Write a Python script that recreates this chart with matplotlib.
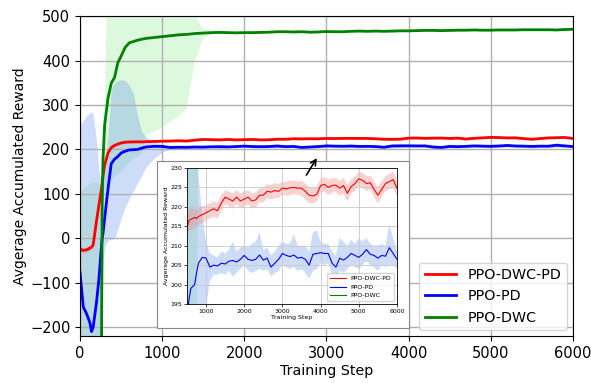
import numpy as np
import matplotlib
matplotlib.use("Agg")
import matplotlib.pyplot as plt
from matplotlib.patches import Rectangle

# training steps
steps = [0, 40, 80, 120, 140, 160, 200, 230, 260, 270, 280, 300, 340, 380, 420, 460,
         500, 550, 600, 650, 700, 750, 800] + list(range(900, 6001, 100))

# PPO-DWC-PD
red = [-25, -27, -26, -22, -20, -15, 38, 75, 110, 125, 140, 165, 192, 204, 209, 212,
       214.5, 216.5, 216.8, 217, 217.3, 217, 217.5,
       218, 218.5, 219, 219.5, 219, 221, 222.5, 222, 221.5, 222.5,
       221.5, 222, 222.5, 221.5, 221.8, 223, 223, 224, 223.8, 224.2,
       224, 224.8, 224.6, 224.9, 225, 224.8, 224.8, 224, 223, 222.8,
       223.2, 225.5, 225.8, 225, 225.5, 225.6, 224.8, 225.5, 223.5, 225.2,
       226, 227.2, 226.8, 226, 226.2, 224.5, 223, 224.5, 226, 226.5,
       227, 224.8]
red_std = [6, 6, 6, 6, 6, 6, 6, 6, 6, 6, 6, 5, 4, 4, 3.5, 3.2,
           3, 3, 2.8, 2.6, 2.5, 2.3, 2.2,
           2.2, 2.0, 1.9, 2.0, 2.1, 2.0, 1.8, 1.9, 2.0, 1.8,
           1.9, 2.0, 1.8, 1.9, 2.0, 1.8, 1.9, 1.8, 1.9, 2.0,
           1.8, 1.7, 1.8, 1.9, 1.7, 1.8, 1.9, 2.0, 2.1, 2.0,
           1.9, 1.8, 1.9, 2.0, 1.9, 1.8, 1.9, 2.0, 2.1, 1.9,
           1.8, 1.9, 2.0, 1.9, 1.8, 2.0, 2.1, 2.0, 1.9, 2.0,
           2.1, 2.0]

# PPO-PD
blue = [-77, -155, -170, -190, -210, -200, -145, -92, -20, 0, 12, 45, 110, 168, 178, 184,
        192, 196, 199, 199.5, 200, 203, 205.5,
        207, 206.8, 204.5, 205, 204.8, 205.5, 205.3, 206, 206.2, 205.8,
        206.5, 207.5, 206.5, 206.2, 206.5, 207.6, 206.3, 206.8, 204.5, 205.5,
        206.5, 208, 207.5, 207.2, 207.6, 206.8, 207, 206.5, 205, 207.8,
        208, 208.2, 208, 208, 205.5, 204.5, 206.8, 206.3, 207, 208,
        207.5, 207, 207.8, 209, 207.8, 207.5, 206.8, 207.5, 207.3, 209.5,
        208, 206.5]
blue_lo = [-500, -500, -500, -500, -500, -500, -500, -450, -300, -150, -60, -20, -5, -2, 0, 20,
           45, 70, 90, 107, 125, 140, 160,
           180, 194, 201, 202.5, 202.5, 203, 202.5, 203.5, 202, 203,
           204, 205, 203.5, 203, 203.5, 204, 203.5, 204, 202, 203,
           203.5, 205, 204.5, 204, 204.5, 203.5, 204, 203, 201.5, 203.5,
           204, 205.5, 205, 205.5, 202.5, 201.5, 203.5, 203, 204, 205,
           204.5, 204, 205, 206, 205, 204.5, 203.5, 205, 204.5, 205,
           205, 204]
blue_hi = [255, 265, 275, 283, 285, 280, 220, 150, 125, 120, 130, 150, 230, 335, 350, 355,
           357, 355, 345, 325, 275, 240, 228,
           218, 211, 208, 207.5, 207, 208.5, 208, 209, 211, 208.5,
           209.5, 210, 209.5, 210.5, 211, 213.5, 209, 209.5, 207.5, 208.5,
           210, 211, 210.5, 210.5, 213, 210, 210, 210, 208.5, 213.5,
           214, 211, 210.5, 210.5, 208.5, 207.5, 212, 211, 210, 211.5,
           210.5, 212, 211, 212, 210.5, 210, 210, 210.5, 210, 215.5,
           212, 208.5]

# PPO-DWC
green = [-800, -800, -800, -800, -800, -800, -800, -700, -300, 80, 180, 255, 315, 349, 362, 395,
         410, 430, 440, 443, 446, 448, 450,
         452, 454, 456, 458, 459, 461, 462, 463, 463.5, 463,
         462.5, 463, 463, 463.5, 464, 465, 465, 464.5, 465, 464,
         464.5, 465.5, 465, 465, 466, 466.5, 466, 466.5, 466, 466.5,
         467, 467, 467.5, 468, 468, 467.5, 468, 468.5, 468.5, 469,
         468.5, 468.5, 469, 469, 469, 469.5, 469.5, 469.5, 469.5, 469,
         470, 470.5]
green_lo = [-1500, -1500, -1500, -1500, -1500, -1500, -1500, -1500, -1500, 60, 100, 110, 120, 130, 140, 145,
            150, 160, 170, 180, 185, 190, 232,
            240, 250, 262, 275, 292, 400, 450, 459, 461, 460.5,
            460, 460.5, 460.5, 461, 461.5, 462.5, 462.5, 462, 462.5, 461.5,
            462, 463, 462.5, 462.5, 463.5, 464, 463.5, 464, 463.5, 464,
            464.5, 464.5, 465, 465.5, 465.5, 465, 465.5, 466, 466, 466.5,
            466, 466, 466.5, 466.5, 466.5, 467, 467, 467, 467, 466.5,
            467.5, 468]
green_hi = [105, 110, 118, 122, 125, 125, 125, 122, 120, 200, 260, 300, 620, 620, 620, 620,
            620, 620, 620, 620, 620, 620, 620,
            620, 620, 620, 620, 560, 500, 472, 467, 466, 465.5,
            465, 465.5, 465.5, 466, 466.5, 467.5, 467.5, 467, 467.5, 466.5,
            467, 468, 467.5, 467.5, 468.5, 469, 468.5, 469, 468.5, 469,
            469.5, 469.5, 470, 470.5, 470.5, 470, 470.5, 471, 471, 471.5,
            471, 471, 471.5, 471.5, 471.5, 472, 472, 472, 472, 471.5,
            472.5, 473]

x = np.array(steps)
red = np.array(red)
red_std = np.array(red_std)

fig = plt.figure(figsize=(5.91, 3.83), dpi=100)
ax = fig.add_axes([0.1354, 0.1227, 0.834, 0.835])


def draw(a, lw):
    a.fill_between(x, green_lo, green_hi, color='lightgreen', alpha=0.3, lw=0)
    a.fill_between(x, blue_lo, blue_hi, color='cornflowerblue', alpha=0.33, lw=0)
    a.fill_between(x, red - red_std, red + red_std, color='lightcoral', alpha=0.35, lw=0)
    a.plot(x, red, color='red', lw=lw, label='PPO-DWC-PD')
    a.plot(x, blue, color='blue', lw=lw, label='PPO-PD')
    a.plot(x, green, color='green', lw=lw, label='PPO-DWC')


draw(ax, 2)
ax.set_xlim(0, 6000)
ax.set_ylim(-220, 500)
ax.set_xticks(range(0, 6001, 1000))
ax.set_yticks(range(-200, 501, 100))
ax.grid(True, color='#b0b0b0', lw=1)
ax.tick_params(labelsize=10.5)
ax.set_xlabel('Training Step', fontsize=10.3, labelpad=2)
ax.set_ylabel('Avgerage Accumulated Reward', fontsize=10, labelpad=2)
ax.legend(loc='lower right', fontsize=10.3, handlelength=2.2, borderaxespad=0.4)

# white frame behind the zoomed view
fig.patches.append(Rectangle((0.2657, 0.1436), 0.4264, 0.436, transform=fig.transFigure,
                             facecolor='white', edgecolor='#888888', lw=0.8, zorder=1))

ax_in = fig.add_axes([0.3164, 0.2063, 0.3553, 0.3551])
ax_in.set_zorder(2)
draw(ax_in, 0.8)
ax_in.set_xlim(500, 6000)
ax_in.set_ylim(195, 230)
ax_in.set_xticks(range(1000, 6001, 1000))
ax_in.set_yticks(range(195, 231, 5))
ax_in.grid(True, color='#c8c8c8', lw=0.6)
ax_in.tick_params(labelsize=4.5, length=2, pad=1.5, width=0.5)
for s in ax_in.spines.values():
    s.set_linewidth(0.6)
ax_in.set_xlabel('Training Step', fontsize=4.5, labelpad=1)
ax_in.set_ylabel('Avgerage Accumulated Reward', fontsize=4.5, labelpad=1)
ax_in.legend(loc='lower right', fontsize=4.5, handlelength=2.5)

ax_in.annotate('', xy=(2900, 186), xycoords=ax.transData,
               xytext=(2738, 137), textcoords=ax.transData,
               arrowprops=dict(arrowstyle='->', color='black', lw=1.2),
               annotation_clip=False)

fig.savefig('out.png', dpi=100)
